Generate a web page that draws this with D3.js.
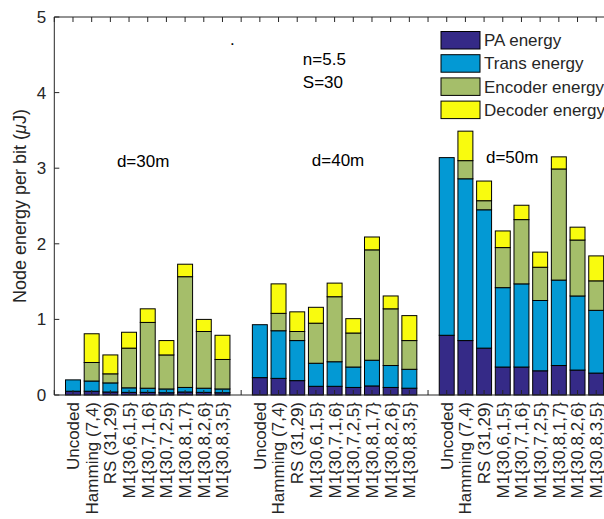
<!DOCTYPE html>
<html>
<head>
<meta charset="utf-8">
<script src="https://cdn.jsdelivr.net/npm/d3@7"></script>
<style>
  body { margin: 0; background: #fff; }
  text { font-family: "Liberation Sans", Arial, sans-serif; fill: #262626; }
</style>
</head>
<body>
<svg id="chart"></svg>
<script>
// schemes shown in every distance group
var schemes = ["Uncoded", "Hamming (7,4)", "RS (31,29)", "M1{30,6,1,5}", "M1{30,7,1,6}",
  "M1{30,7,2,5}", "M1{30,8,1,7}", "M1{30,8,2,6}", "M1{30,8,3,5}"];
var distances = ["d=30m", "d=40m", "d=50m"];
var components = ["PA energy", "Trans energy", "Encoder energy", "Decoder energy"];
var colors = ["#352a87", "#0399d4", "#a5be6a", "#f9fb0e"];

// energy per component (uJ), one row per scheme, one array per distance
var paEnergy = [
  [0.05, 0.05, 0.04, 0.035, 0.035, 0.03, 0.04, 0.035, 0.03],
  [0.23, 0.22, 0.19, 0.115, 0.115, 0.10, 0.12, 0.10, 0.09],
  [0.79, 0.72, 0.62, 0.37, 0.37, 0.32, 0.39, 0.33, 0.29]
];
var transEnergy = [
  [0.15, 0.135, 0.12, 0.06, 0.055, 0.05, 0.06, 0.055, 0.05],
  [0.70, 0.63, 0.53, 0.305, 0.325, 0.27, 0.34, 0.29, 0.25],
  [2.35, 2.14, 1.83, 1.05, 1.10, 0.93, 1.13, 0.98, 0.83]
];
var encoderEnergy = [
  [0, 0.245, 0.12, 0.525, 0.87, 0.45, 1.465, 0.75, 0.39],
  [0, 0.23, 0.12, 0.53, 0.86, 0.45, 1.46, 0.75, 0.38],
  [0, 0.24, 0.12, 0.53, 0.85, 0.44, 1.47, 0.74, 0.39]
];
var decoderEnergy = [
  [0, 0.38, 0.25, 0.21, 0.18, 0.19, 0.165, 0.16, 0.32],
  [0, 0.39, 0.26, 0.21, 0.18, 0.19, 0.17, 0.17, 0.33],
  [0, 0.39, 0.26, 0.22, 0.19, 0.20, 0.16, 0.17, 0.33]
];
var yTicks = [0, 1, 2, 3, 4, 5];

var width = 604, height = 519;
var fontSize = "17px";
var svg = d3.select("#chart").attr("width", width).attr("height", height);

var x = d3.scaleLinear().domain([0, 30]).range([54.3, 614.9]);
var y = d3.scaleLinear().domain([0, 5]).range([395, 17]);
var barW = (x(1) - x(0)) * 0.8;

//build rows with position and stacked parts
var rows = [];
distances.forEach(function(dist, g){
  schemes.forEach(function(s, i){
    var parts = [paEnergy[g][i], transEnergy[g][i], encoderEnergy[g][i], decoderEnergy[g][i]];
    var base = 0;
    parts.forEach(function(v, k){
      rows.push({pos: g*10 + i + 1, k: k, y0: base, y1: base + v});
      base += v;
    });
  });
});

//bars
svg.append("g").selectAll("rect")
  .data(rows)
  .enter()
  .append("rect")
  .attr("x", function(d){ return x(d.pos) - barW/2; })
  .attr("y", function(d){ return y(d.y1); })
  .attr("width", barW)
  .attr("height", function(d){ return y(d.y0) - y(d.y1); })
  .attr("fill", function(d){ return colors[d.k]; })
  .attr("stroke", "#000")
  .attr("stroke-width", 1);

//axes box
var tickPos = d3.range(0, 31);
var ax = svg.append("g").attr("stroke", "#262626").attr("stroke-width", 1).attr("fill", "none");
ax.append("line").attr("x1", x(0)).attr("x2", x(30)).attr("y1", y(0)).attr("y2", y(0));
ax.append("line").attr("x1", x(0)).attr("x2", x(30)).attr("y1", y(5)).attr("y2", y(5));
ax.append("line").attr("x1", x(0)).attr("x2", x(0)).attr("y1", y(0)).attr("y2", y(5));

ax.selectAll("line.tt").data(tickPos).enter().append("line")
  .attr("class", "tt")
  .attr("x1", function(d){ return x(d); }).attr("x2", function(d){ return x(d); })
  .attr("y1", y(5)).attr("y2", y(5) + 5);
ax.selectAll("line.bt").data(tickPos).enter().append("line")
  .attr("class", "bt")
  .attr("x1", function(d){ return x(d); }).attr("x2", function(d){ return x(d); })
  .attr("y1", y(0)).attr("y2", y(0) - 5);
ax.selectAll("line.yt").data(yTicks).enter().append("line")
  .attr("class", "yt")
  .attr("x1", x(0)).attr("x2", x(0) + 5)
  .attr("y1", function(d){ return y(d); }).attr("y2", function(d){ return y(d); });

//y tick labels
svg.selectAll("text.ytl").data(yTicks).enter().append("text")
  .attr("class", "ytl")
  .attr("x", x(0) - 8)
  .attr("y", function(d){ return y(d); })
  .attr("dy", ".35em")
  .attr("text-anchor", "end")
  .style("font-size", fontSize)
  .text(function(d){ return d; });

//x tick labels, rotated
svg.selectAll("text.xtl").data(rows.filter(function(d){ return d.k == 0; })).enter().append("text")
  .attr("class", "xtl")
  .attr("transform", function(d){ return "translate(" + x(d.pos) + "," + (y(0) + 7) + ") rotate(-90)"; })
  .attr("dy", ".35em")
  .attr("text-anchor", "end")
  .style("font-size", fontSize)
  .text(function(d){ return schemes[(d.pos - 1) % 10]; });

//y axis title
svg.append("text")
  .attr("transform", "translate(" + 26 + "," + y(2.5) + ") rotate(-90)")
  .attr("text-anchor", "middle")
  .style("font-size", "18px")
  .html("Node energy per bit (<tspan font-style='italic'>&#956;</tspan>J)");

//annotations
var notes = [
  {t: distances[0], px: 3.35, py: 3.02},
  {t: distances[1], px: 13.78, py: 3.03},
  {t: distances[2], px: 23.1, py: 3.07},
  {t: "n=5.5", px: 13.3, py: 4.37},
  {t: "S=30", px: 13.3, py: 4.06},
  {t: ".", px: 9.4, py: 4.63}
];
svg.selectAll("text.note").data(notes).enter().append("text")
  .attr("class", "note")
  .attr("x", function(d){ return x(d.px); })
  .attr("y", function(d){ return y(d.py); })
  .style("font-size", fontSize)
  .style("fill", "#000")
  .text(function(d){ return d.t; });

//legend
var legend = svg.append("g").attr("transform", "translate(437,28)");
legend.append("rect").attr("width", 200).attr("height", 97).attr("fill", "#fff");
var items = legend.selectAll("g.item").data(components).enter().append("g")
  .attr("class", "item")
  .attr("transform", function(d, i){ return "translate(4," + (3.5 + i*23.2) + ")"; });
items.append("rect")
  .attr("width", 39).attr("height", 17.5)
  .attr("fill", function(d, i){ return colors[i]; })
  .attr("stroke", "#000");
items.append("text")
  .attr("x", 43).attr("y", 8.75).attr("dy", ".35em")
  .style("font-size", fontSize)
  .text(function(d){ return d; });
</script>
</body>
</html>
